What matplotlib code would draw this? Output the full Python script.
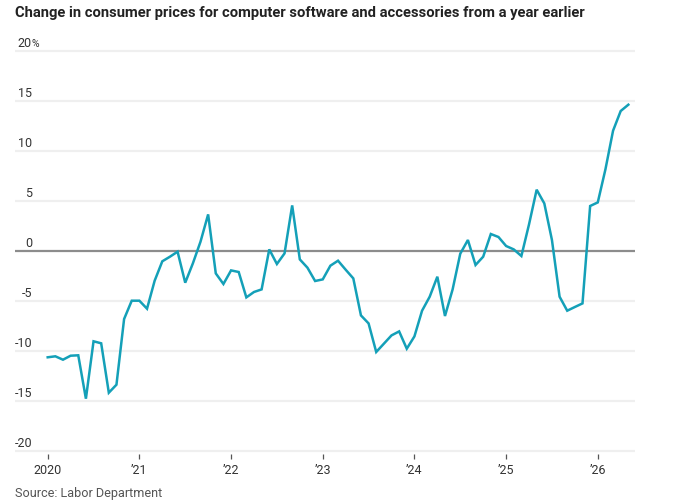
import matplotlib
matplotlib.use("Agg")
import matplotlib.pyplot as plt
import numpy as np

plt.rcParams['font.family'] = ['Roboto', 'DejaVu Sans']

start_year = 2020
values = [
    -10.66, -10.56, -10.9, -10.5, -10.46, -14.8, -9.06, -9.26, -14.2, -13.4, -6.83, -5.0,
    -5.0, -5.8, -3.0, -1.06, -0.6, -0.1, -3.2, -1.27, 0.9, 3.63, -2.27, -3.33,
    -1.97, -2.13, -4.67, -4.13, -3.87, 0.13, -1.33, -0.27, 4.53, -0.87, -1.7, -3.03,
    -2.87, -1.5, -1.0, -1.9, -2.77, -6.47, -7.27, -10.13, -9.3, -8.47, -8.07, -9.8,
    -8.57, -6.0, -4.6, -2.6, -6.53, -3.87, -0.3, 1.07, -1.43, -0.6, 1.67, 1.37,
    0.47, 0.13, -0.53, 2.63, 6.1, 4.73, 1.07, -4.6, -6.0, -5.63, -5.27, 4.47,
    4.83, 8.13, 12.0, 13.97, 14.6,
]
y_ticks = [20, 15, 10, 5, 0, -5, -10, -15, -20]
y_tick_labels = ['20', '15', '10', '5', '0', '-5', '-10', '-15', '-20']
x_tick_labels = ['2020', '\u201921', '\u201922', '\u201923', '\u201924', '\u201925', '\u201926']
title = 'Change in consumer prices for computer software and accessories from a year earlier'
source = 'Source: Labor Department'

W, H = 683, 504
fig = plt.figure(figsize=(W / 100, H / 100), dpi=100)

px_per_month = 7.64
x0_px = 47.7
left_px, right_px = 15, 635
top_px, bot_px = 47.7, 453.7
ax = fig.add_axes([left_px / W, 1 - bot_px / H, (right_px - left_px) / W, (bot_px - top_px) / H])
ax.set_xlim((left_px - x0_px) / px_per_month, (right_px - x0_px) / px_per_month)
ax.set_ylim(-20.3, 20.3)

for s in ax.spines.values():
    s.set_visible(False)

for v in y_ticks:
    if v == 0:
        ax.axhline(v, color='#8c8c8c', lw=1.6, zorder=2)
    else:
        ax.axhline(v, color='#efefef', lw=1.6, zorder=1)

label_x = (32 - left_px) / (right_px - left_px)
tr = ax.get_yaxis_transform()
for v, lab in zip(y_ticks, y_tick_labels):
    ax.text(label_x, v + 0.72, lab, transform=tr, ha='right', va='center',
            fontsize=9, color='#333333')
ax.text(label_x, 20 + 0.72, '%', transform=tr, ha='left', va='center',
        fontsize=7.5, color='#333333')

x = np.arange(len(values))
ax.plot(x, values, color='#14a0b8', lw=1.8, zorder=3, solid_joinstyle='miter')

ax.set_yticks([])
ax.set_xticks(np.arange(len(x_tick_labels)) * 12)
ax.set_xticklabels(x_tick_labels)
ax.tick_params(axis='x', length=3.5, width=0.9, color='#555555', pad=4,
               labelsize=9, labelcolor='#333333')

t = fig.text(15 / W, 1 - 13 / H, title, ha='left', va='center', fontsize=10.8,
             fontweight='bold', color='#222222')
s = fig.text(15 / W, 1 - 494 / H, source, ha='left', va='center', fontsize=9.5,
             color='#555555')

fig.canvas.draw()
r = fig.canvas.get_renderer()
for txt, target in ((t, 568.0), (s, 148.0)):
    w = txt.get_window_extent(r).width
    txt.set_fontsize(txt.get_fontsize() * target / w)

fig.savefig('out.png', dpi=100)
